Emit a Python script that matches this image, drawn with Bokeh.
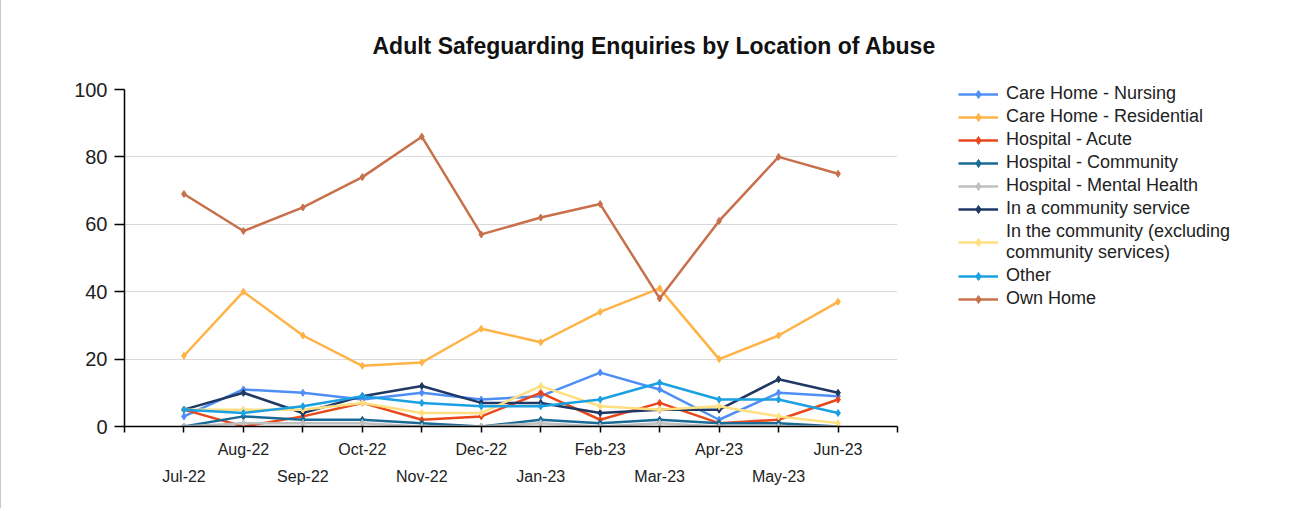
from bokeh.plotting import figure
from bokeh.models import (ColumnDataSource, Range1d, FixedTicker, LinearAxis,
                          Legend, LegendItem)
from bokeh.embed import file_html
from bokeh.resources import INLINE

# ---- data ----
months = ["Jul-22", "Aug-22", "Sep-22", "Oct-22", "Nov-22", "Dec-22",
          "Jan-23", "Feb-23", "Mar-23", "Apr-23", "May-23", "Jun-23"]
care_home_nursing = [3, 11, 10, 8, 10, 8, 9, 16, 11, 2, 10, 9]
care_home_residential = [21, 40, 27, 18, 19, 29, 25, 34, 41, 20, 27, 37]
hospital_acute = [5, 0, 3, 7, 2, 3, 10, 2, 7, 1, 2, 8]
hospital_community = [0, 3, 2, 2, 1, 0, 2, 1, 2, 1, 1, 0]
hospital_mental_health = [0, 1, 1, 1, 0, 0, 1, 0, 1, 0, 0, 0]
in_a_community_service = [5, 10, 4, 9, 12, 7, 7, 4, 5, 5, 14, 10]
in_the_community = [5, 5, 5, 7, 4, 4, 12, 6, 5, 6, 3, 1]
other = [5, 4, 6, 9, 7, 6, 6, 8, 13, 8, 8, 4]
own_home = [69, 58, 65, 74, 86, 57, 62, 66, 38, 61, 80, 75]
y_ticks = [0, 20, 40, 60, 80, 100]

series = [
    ("Care Home - Nursing", care_home_nursing, "#4f8ff5"),
    ("Care Home - Residential", care_home_residential, "#ffb347"),
    ("Hospital - Acute", hospital_acute, "#e8481c"),
    ("Hospital - Community", hospital_community, "#1a6a96"),
    ("Hospital - Mental Health", hospital_mental_health, "#bfbfbf"),
    ("In a community service", in_a_community_service, "#1f3864"),
    ("In the community (excluding\ncommunity services)", in_the_community, "#ffdf80"),
    ("Other", other, "#1ba1e2"),
    ("Own Home", own_home, "#c8704c"),
]

xs = list(range(1, len(months) + 1))

FONT = "Liberation Sans"

p = figure(frame_width=773, frame_height=337, output_backend="svg", toolbar_location=None,
           x_range=Range1d(0, len(months) + 1), y_range=Range1d(0, 100),
           min_border_left=123, min_border_right=60, min_border_top=89,
           min_border_bottom=82, x_axis_type=None)
p.outline_line_color = None
p.background_fill_color = "white"
p.border_fill_color = "white"
p.styles = {"border-left": "1px solid #c8c8c8", "border-right": "1px solid #c8c8c8"}

p.title.text = "Adult Safeguarding Enquiries by Location of Abuse"
p.title.text_font = FONT
p.title.text_font_size = "23px"
p.title.text_font_style = "bold"
p.title.text_color = "#111111"
p.title.align = "left"
p.title.vertical_align = "top"
p.title.offset = 248
p.title.standoff = 57

# y axis
yax = p.yaxis[0]
yax.ticker = FixedTicker(ticks=y_ticks)
yax.axis_line_color = "#000000"
yax.axis_line_width = 1.5
yax.major_tick_line_color = "#000000"
yax.major_tick_line_width = 1.5
yax.major_tick_out = 10
yax.major_tick_in = 0
yax.minor_tick_line_color = None
yax.major_label_text_font = FONT
yax.major_label_text_font_size = "20px"
yax.major_label_text_color = "#222222"
yax.major_label_standoff = 7

p.xgrid.visible = False
p.ygrid.ticker = FixedTicker(ticks=y_ticks)
p.ygrid.grid_line_color = "#d9d9d9"
p.ygrid.grid_line_width = 1

# x axes (staggered labels)
all_ticks = list(range(0, len(months) + 2))
upper = {i: "" for i in all_ticks}
lower = {}
for i, m in zip(xs, months):
    if i % 2 == 0:
        upper[i] = m
    else:
        lower[i] = m

xax1 = LinearAxis(ticker=FixedTicker(ticks=all_ticks), major_label_overrides=upper)
xax1.axis_line_color = "#000000"
xax1.axis_line_width = 1.5
xax1.major_tick_line_color = "#000000"
xax1.major_tick_line_width = 1.5
xax1.major_tick_out = 6
xax1.major_tick_in = 0
xax1.minor_tick_line_color = None
xax1.major_label_text_font = FONT
xax1.major_label_text_font_size = "16px"
xax1.major_label_text_color = "#222222"
xax1.major_label_standoff = 8
p.add_layout(xax1, "below")

odd_ticks = [i for i in xs if i % 2 == 1]
xax2 = LinearAxis(ticker=FixedTicker(ticks=odd_ticks), major_label_overrides=lower)
xax2.axis_line_color = None
xax2.major_tick_line_color = None
xax2.minor_tick_line_color = None
xax2.major_label_text_font = FONT
xax2.major_label_text_font_size = "16px"
xax2.major_label_text_color = "#222222"
xax2.major_label_standoff = 1
p.add_layout(xax2, "below")

items = []
for name, vals, color in series:
    src = ColumnDataSource(dict(x=xs, y=vals))
    lr = p.line("x", "y", source=src, line_color=color, line_width=2.5)
    sr = p.scatter("x", "y", source=src, marker="diamond", size=7,
                   fill_color=color, line_color=color)
    items.append(LegendItem(label=name, renderers=[lr, sr]))

legend = Legend(items=items, location=(61, 117))
legend.padding = 0
legend.margin = 0
legend.border_line_color = None
legend.background_fill_alpha = 0
legend.glyph_width = 40
legend.glyph_height = 20
legend.label_height = 20
legend.spacing = 2
legend.label_standoff = 8
legend.label_text_font = FONT
legend.label_text_font_size = "18px"
legend.label_text_color = "#222222"
p.add_layout(legend, "right")

open("out.html", "w").write(file_html(p, INLINE))
